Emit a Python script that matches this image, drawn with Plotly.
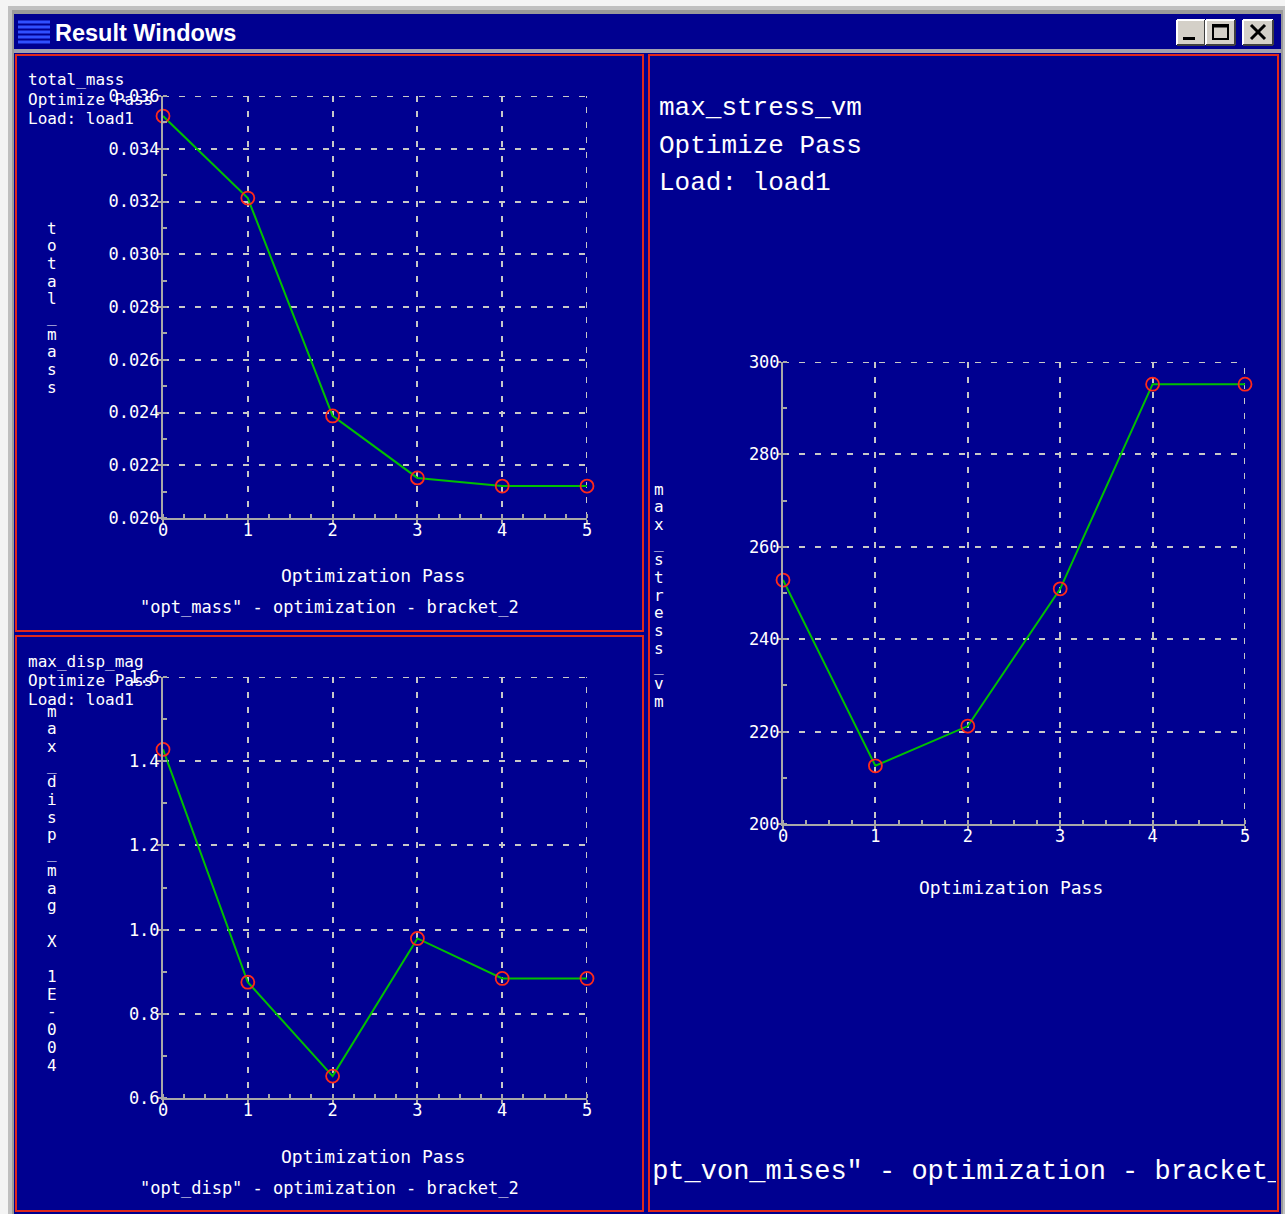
import plotly.graph_objects as go

W, H = 1285, 1214

# ---- data -----------------------------------------------------------------
passes = [0, 1, 2, 3, 4, 5]
total_mass = [0.03524, 0.03213, 0.02387, 0.02152, 0.02121, 0.02121]
max_disp_mag = [1.428, 0.875, 0.652, 0.979, 0.884, 0.884]   # x 1E-004
max_stress_vm = [252.8, 212.6, 221.2, 250.9, 295.2, 295.2]

x_ticks = [0, 1, 2, 3, 4, 5]
mass_ticks = [0.020, 0.022, 0.024, 0.026, 0.028, 0.030, 0.032, 0.034, 0.036]
mass_labels = ["0.020", "0.022", "0.024", "0.026", "0.028", "0.030", "0.032", "0.034", "0.036"]
disp_ticks = [0.6, 0.8, 1.0, 1.2, 1.4, 1.6]
disp_labels = ["0.6", "0.8", "1.0", "1.2", "1.4", "1.6"]
stress_ticks = [200, 220, 240, 260, 280, 300]
stress_labels = ["200", "220", "240", "260", "280", "300"]

window_title = "Result Windows"
x_title = "Optimization Pass"
mass_header = ["total_mass", "Optimize Pass", "Load: load1"]
disp_header = ["max_disp_mag", "Optimize Pass", "Load: load1"]
stress_header = ["max_stress_vm", "Optimize Pass", "Load: load1"]
mass_ylabel = "total_mass"
disp_ylabel = "max_disp_mag X 1E-004"
stress_ylabel = "max_stress_vm"
mass_caption = '"opt_mass" - optimization - bracket_2'
disp_caption = '"opt_disp" - optimization - bracket_2'
stress_caption = '"opt_von_mises" - optimization - bracket_2'

# ---- style ----------------------------------------------------------------
NAVY = "#000090"
FRAME = "#c0c0c0"
RED = "#e0281c"
GRID = "#c8c8c8"
AXIS = "#a8a8a8"
LINE = "#00c000"
MARK = "#ff2a1a"
PIX = "DejaVu Sans Mono"
COUR = "Liberation Mono"
HDASH = "6px,10px"
VDASH = "6px,9px"


def fx(x):
    return x / W


def fy(y):
    return 1 - y / H


fig = go.Figure()

series = [
    (total_mass, "x", "y"),
    (max_disp_mag, "x2", "y2"),
    (max_stress_vm, "x3", "y3"),
]
for vals, xa, ya in series:
    fig.add_trace(go.Scatter(
        x=passes, y=vals, xaxis=xa, yaxis=ya, mode="lines+markers",
        line=dict(color=LINE, width=2),
        marker=dict(symbol="circle-open", size=13, color=MARK,
                    line=dict(color=MARK, width=1.8)),
        cliponaxis=False, showlegend=False, hoverinfo="skip",
    ))

# clipped caption inside the right-hand pane
fig.add_trace(go.Scatter(
    x=[960], y=[1172], xaxis="x4", yaxis="y4", mode="text",
    text=[stress_caption], textposition="middle center",
    textfont=dict(family=COUR, size=27, color="white"),
    cliponaxis=True, showlegend=False, hoverinfo="skip",
))


def xaxis(dom, anchor):
    return dict(
        domain=dom, anchor=anchor, range=[0, 5],
        tickmode="array", tickvals=x_ticks, ticktext=[str(t) for t in x_ticks],
        showline=True, linecolor=AXIS, linewidth=2,
        ticks="outside", ticklen=4, tickwidth=2, tickcolor=AXIS,
        minor=dict(tickmode="linear", tick0=0, dtick=0.25, ticks="inside",
                   ticklen=4, tickwidth=2, tickcolor=AXIS, showgrid=False),
        showgrid=True, gridcolor=GRID, griddash=VDASH, gridwidth=2,
        zeroline=False, fixedrange=True, automargin=False,
        tickfont=dict(family=PIX, size=17, color="white"),
        ticklabelstandoff=-8,
    )


def yaxis(dom, anchor, rng, tv, tt, mdt):
    return dict(
        domain=dom, anchor=anchor, range=rng,
        tickmode="array", tickvals=tv, ticktext=tt,
        showline=True, linecolor=AXIS, linewidth=2,
        ticks="outside", ticklen=4, tickwidth=2, tickcolor=AXIS,
        minor=dict(tickmode="linear", tick0=rng[0], dtick=mdt, ticks="inside",
                   ticklen=4, tickwidth=2, tickcolor=AXIS, showgrid=False),
        showgrid=True, gridcolor=GRID, griddash=HDASH, gridwidth=2,
        zeroline=False, fixedrange=True, automargin=False,
        tickfont=dict(family=PIX, size=17, color="white"),
        ticklabelstandoff=-6,
    )


left_x = [fx(163), fx(587)]
right_x = [fx(783), fx(1245)]

fig.update_layout(
    width=W, height=H, autosize=False,
    margin=dict(l=0, r=0, t=0, b=0, pad=0, autoexpand=False),
    paper_bgcolor="#f4f4f4",
    plot_bgcolor="rgba(0,0,0,0)",
    xaxis=xaxis(left_x, "y"),
    yaxis=yaxis([fy(518), fy(96)], "x", [0.020, 0.036], mass_ticks, mass_labels, 0.001),
    xaxis2=xaxis(left_x, "y2"),
    yaxis2=yaxis([fy(1098), fy(677)], "x2", [0.6, 1.6], disp_ticks, disp_labels, 0.1),
    xaxis3=xaxis(right_x, "y3"),
    yaxis3=yaxis([fy(824), fy(362)], "x3", [200, 300], stress_ticks, stress_labels, 10),
    xaxis4=dict(domain=[fx(651), fx(1276)], range=[651, 1276], anchor="y4",
                visible=False, fixedrange=True),
    yaxis4=dict(domain=[fy(1209), fy(57)], range=[1209, 57], anchor="x4",
                visible=False, fixedrange=True),
)

shapes = []


def rect(x0, y0, x1, y1, fill=None, line=None, lw=0, layer="below"):
    shapes.append(dict(
        type="rect", xref="paper", yref="paper",
        x0=fx(x0), x1=fx(x1), y0=fy(y1), y1=fy(y0),
        fillcolor=fill if fill else "rgba(0,0,0,0)",
        line=dict(color=line if line else "rgba(0,0,0,0)", width=lw),
        layer=layer,
    ))


def seg(x0, y0, x1, y1, color, lw, layer="below"):
    shapes.append(dict(
        type="line", xref="paper", yref="paper",
        x0=fx(x0), x1=fx(x1), y0=fy(y0), y1=fy(y1),
        line=dict(color=color, width=lw), layer=layer,
    ))


# window frame, title bar and client area
rect(8, 6, 1285, 1214, fill=FRAME)
rect(12, 10, 1283, 1214, fill="#9a9a9a")
rect(14, 14, 1281, 1214, fill=NAVY)
rect(14, 49, 1281, 53, fill="#a0a0b0")

# title bar icon
for yy in [22, 27, 32, 37, 42]:
    seg(18, yy, 50, yy, "#3050ff", 3)

# title bar buttons
for bx0, bx1 in [(1177, 1205), (1206, 1235), (1243, 1273)]:
    rect(bx0, 20, bx1, 45, fill="#d4d0c8")
    seg(bx0, 20, bx1, 20, "#ffffff", 2)
    seg(bx0, 20, bx0, 45, "#ffffff", 2)
    seg(bx0, 45, bx1, 45, "#404040", 2)
    seg(bx1, 20, bx1, 45, "#404040", 2)
rect(1183, 37, 1195, 40, fill="#000000")
rect(1213, 25, 1228, 39, line="#000000", lw=2)
seg(1213, 26, 1228, 26, "#000000", 3)
seg(1251, 25, 1265, 39, "#000000", 3)
seg(1265, 25, 1251, 39, "#000000", 3)

# pane borders
rect(16, 55, 643, 631, line=RED, lw=2)
rect(16, 636, 643, 1211, line=RED, lw=2)
rect(649, 55, 1278, 1211, line=RED, lw=2)

# dashed grid lines along the far edges of each plot area
edge_grids = [
    ("x", "y", 5, [0.020, 0.036], 0.036),
    ("x2", "y2", 5, [0.6, 1.6], 1.6),
    ("x3", "y3", 5, [200, 300], 300),
]
for xr, yr, xmax, yrng, ytop in edge_grids:
    shapes.append(dict(type="line", xref=xr, yref=yr, x0=0, x1=xmax, y0=ytop, y1=ytop,
                       line=dict(color=GRID, width=2, dash=HDASH), layer="below"))
    shapes.append(dict(type="line", xref=xr, yref=yr, x0=xmax, x1=xmax, y0=yrng[0], y1=yrng[1],
                       line=dict(color=GRID, width=2, dash=VDASH), layer="below"))

fig.update_layout(shapes=shapes)

ann = []


def text(s, x, y, size, family=PIX, xanchor="left", bold=False, color="white"):
    ann.append(dict(
        text=f"<b>{s}</b>" if bold else s, x=fx(x), y=fy(y),
        xref="paper", yref="paper", xanchor=xanchor, yanchor="middle",
        showarrow=False, font=dict(family=family, size=size, color=color),
    ))


text(window_title, 53, 33, 23.5, family="Liberation Sans", bold=True)

# pane headers
for i, s in enumerate(mass_header):
    text(s, 26, 80 + 19 * i, 16)
for i, s in enumerate(disp_header):
    text(s, 26, 661 + 19 * i, 16)
for i, s in enumerate(stress_header):
    text(s, 657, 108 + 37.5 * i, 26, family=COUR)


# stacked vertical axis titles
def stacked(label, x, y0, step=17.7):
    for i, ch in enumerate(label):
        if ch != " ":
            text(ch, x, y0 + step * i, 16, xanchor="center")


stacked(mass_ylabel, 52, 228)
stacked(disp_ylabel, 52, 711)
stacked(stress_ylabel, 659, 489)

# x titles and captions
text(x_title, 373, 575, 18, xanchor="center")
text(mass_caption, 329, 607, 17, xanchor="center")
text(x_title, 373, 1156, 18, xanchor="center")
text(disp_caption, 329, 1188, 17, xanchor="center")
text(x_title, 1011, 887, 18, xanchor="center")

fig.update_layout(annotations=ann)

fig.write_html(
    "out.html",
    post_script="document.body.style.margin='0px';document.body.style.overflow='hidden';",
)
